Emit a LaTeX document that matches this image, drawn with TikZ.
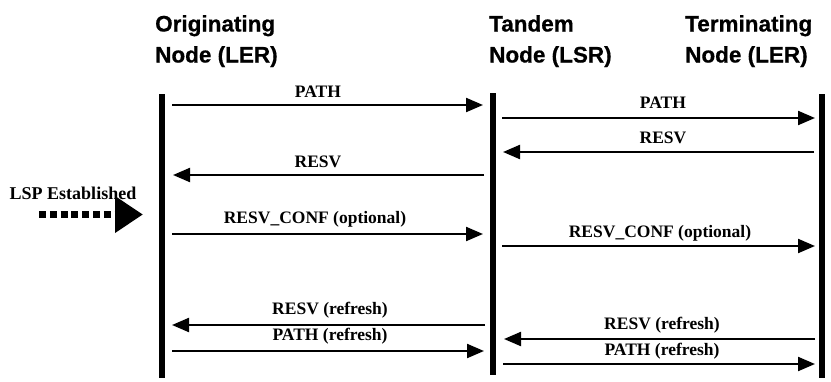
\documentclass[tikz,border=0pt]{standalone}
\usepackage{fontspec}
\setmainfont{Liberation Serif}
\newfontfamily\headfont[FakeBold=0.6]{Liberation Sans Bold}
\usetikzlibrary{arrows.meta}

\begin{document}
\begin{tikzpicture}[x=1pt,y=-1pt,
    life/.style={line width=6pt},
    msg/.style={line width=2.2pt,-{Triangle[length=17pt,width=14pt]}},
    lbl/.style={font=\bfseries\fontsize{17.5}{20}\selectfont,anchor=base,inner sep=0pt},
    hdr/.style={font=\headfont\fontsize{22.5}{31}\selectfont,align=left,anchor=north west,inner sep=0pt},
    lsp/.style={line width=7pt,dash pattern=on 7pt off 3.8pt,-{Triangle[length=28pt,width=35pt]}}]
        \useasboundingbox (0,0) rectangle (831,381);
        % Headers
        \node[hdr] (orig) at (155,15) {Originating\\Node (LER)};
        \node[hdr] (tand) at (489,15) {Tandem\\Node (LSR)};
        \node[hdr] (term) at (685,15) {Terminating\\Node (LER)};
        % Vertical lines
        \coordinate (ot) at (162,94);
        \coordinate (ob) at (162,378);
        \coordinate (tt) at (493,93);
        \coordinate (tb) at (493,375);
        \coordinate (rt) at (822,94);
        \coordinate (rb) at (822,378);
        \draw[life] (ot) -- (ob);
        \draw[life] (tt) -- (tb);
        \draw[life] (rt) -- (rb);
        % LSP Established
        \node[font=\bfseries\fontsize{18}{20}\selectfont,anchor=base,inner sep=0pt] (lsptxt) at (73,199) {LSP Established};
        \coordinate (lspa) at (39,214.5);
        \coordinate (lspb) at (143,214.5);
        \draw[lsp] (lspa) -- (lspb);
        % Messages
        \coordinate (m1a) at (172,105);
        \coordinate (m1b) at (483,105);
        \draw[msg] (m1a) -- (m1b);
        \node[lbl] (path1) at (318,97) {PATH};
        \coordinate (m2a) at (502,118);
        \coordinate (m2b) at (815,118);
        \draw[msg] (m2a) -- (m2b);
        \node[lbl] (path2) at (663,108) {PATH};
        \coordinate (m3a) at (814,152);
        \coordinate (m3b) at (503,152);
        \draw[msg] (m3a) -- (m3b);
        \node[lbl] (resv1) at (663,143) {RESV};
        \coordinate (m4a) at (484,175);
        \coordinate (m4b) at (173,175);
        \draw[msg] (m4a) -- (m4b);
        \node[lbl] (resv2) at (318,167) {RESV};
        \coordinate (m5a) at (172,234);
        \coordinate (m5b) at (483,234);
        \draw[msg] (m5a) -- (m5b);
        \node[lbl] (conf1) at (315,223) {RESV\_CONF (optional)};
        \coordinate (m6a) at (502,246);
        \coordinate (m6b) at (815,246);
        \draw[msg] (m6a) -- (m6b);
        \node[lbl] (conf2) at (660,237) {RESV\_CONF (optional)};
        \coordinate (m7a) at (485,325);
        \coordinate (m7b) at (172,325);
        \draw[msg] (m7a) -- (m7b);
        \node[lbl] (resv3) at (330,314) {RESV (refresh)};
        \coordinate (m8a) at (815,339);
        \coordinate (m8b) at (504,339);
        \draw[msg] (m8a) -- (m8b);
        \node[lbl] (resv4) at (662,329) {RESV (refresh)};
        \coordinate (m9a) at (172,351);
        \coordinate (m9b) at (484,351);
        \draw[msg] (m9a) -- (m9b);
        \node[lbl] (path3) at (330,340) {PATH (refresh)};
        \coordinate (m10a) at (503,364);
        \coordinate (m10b) at (815,364);
        \draw[msg] (m10a) -- (m10b);
        \node[lbl] (path4) at (662,355) {PATH (refresh)};
    \end{tikzpicture}
\end{document}
